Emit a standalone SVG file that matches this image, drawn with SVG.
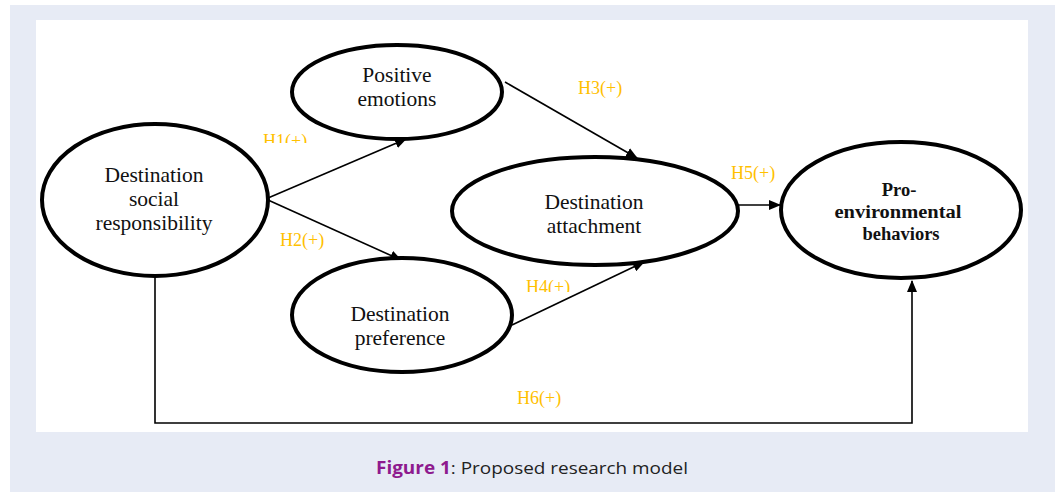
<svg xmlns="http://www.w3.org/2000/svg" width="1058" height="492" viewBox="0 0 1058 492">
<style>
.node ellipse{fill:#fff;stroke:#000;stroke-width:4}
.nt{font-family:"Liberation Serif",serif;font-size:21.5px;fill:#111;text-anchor:middle}
.bt{font-family:"Liberation Serif",serif;font-size:18.5px;font-weight:bold;fill:#111;text-anchor:middle}
.lbl{font-family:"Liberation Serif",serif;font-size:18px;fill:#FFC000}
.conn path{fill:none;stroke:#000;stroke-width:1.6}
</style>
<defs>
<marker id="ah" viewBox="0 0 12 10" refX="11" refY="5" markerWidth="12" markerHeight="10" markerUnits="userSpaceOnUse" orient="auto">
<path d="M0,0 L12,5 L0,10 Z" fill="#000"/>
</marker>
<clipPath id="c1"><rect x="250" y="120" width="80" height="23"/></clipPath>
<clipPath id="c4"><rect x="515" y="270" width="80" height="22"/></clipPath>
</defs>
<rect x="10" y="5" width="1045" height="487" fill="#E7EBF5"/>
<rect x="36" y="20" width="992" height="412" fill="#fff"/>
<g class="conn" id="connectors">
<path d="M268,198 L406,139" marker-end="url(#ah)"/>
<path d="M268,200 L401,260" marker-end="url(#ah)"/>
<path d="M505,82 L637,158" marker-end="url(#ah)"/>
<path d="M512,325 L644,262" marker-end="url(#ah)"/>
<path d="M738,205 L780,205" marker-end="url(#ah)"/>
<path d="M155,278 L155,423 L912,423 L912,281" marker-end="url(#ah)"/>
</g>
<g id="labels">
<text class="lbl" x="263" y="147" clip-path="url(#c1)">H1(+)</text>
<text class="lbl" x="280" y="246">H2(+)</text>
<text class="lbl" x="578" y="94">H3(+)</text>
<text class="lbl" x="526" y="293" clip-path="url(#c4)">H4(+)</text>
<text class="lbl" x="731" y="179">H5(+)</text>
<text class="lbl" x="517" y="404">H6(+)</text>
</g>
<g class="node" id="dsr">
<ellipse cx="155" cy="200" rx="113" ry="76"/>
<text class="nt" x="154" y="182">Destination</text>
<text class="nt" x="154" y="206">social</text>
<text class="nt" x="154" y="230">responsibility</text>
</g>
<g class="node" id="pe">
<ellipse cx="397" cy="92" rx="105" ry="47"/>
<text class="nt" x="397" y="82">Positive</text>
<text class="nt" x="397" y="106">emotions</text>
</g>
<g class="node" id="da">
<ellipse cx="595" cy="211" rx="143" ry="54"/>
<text class="nt" x="594" y="209">Destination</text>
<text class="nt" x="594" y="233">attachment</text>
</g>
<g class="node" id="dp">
<ellipse cx="402" cy="315" rx="110" ry="57"/>
<text class="nt" x="400" y="321">Destination</text>
<text class="nt" x="400" y="345">preference</text>
</g>
<g class="node" id="peb">
<ellipse cx="901" cy="210" rx="120" ry="68"/>
<text class="bt" x="899" y="196">Pro-</text>
<text class="bt" x="898" y="218" textLength="127" lengthAdjust="spacingAndGlyphs">environmental</text>
<text class="bt" x="901" y="240">behaviors</text>
</g>
<text x="532" y="474" text-anchor="middle" font-family="'Open Sans',sans-serif" font-size="17" fill="#222" textLength="312" lengthAdjust="spacingAndGlyphs"><tspan fill="#8E1A8E" font-weight="bold">Figure 1</tspan>: Proposed research model</text>
</svg>
